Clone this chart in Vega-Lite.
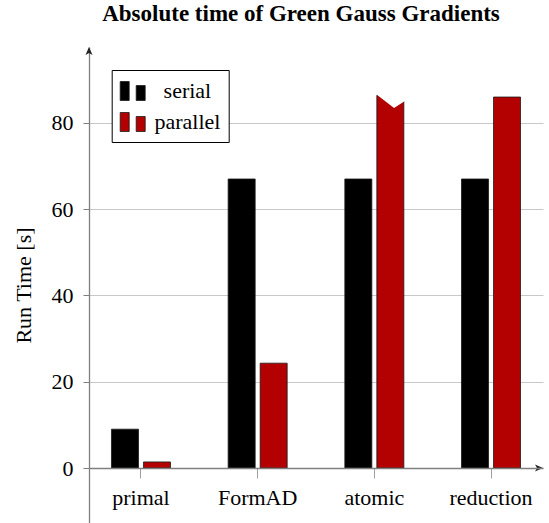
{
  "$schema": "https://vega.github.io/schema/vega-lite/v6.json",
  "width": 454,
  "height": 476,
  "autosize": {"type": "none"},
  "padding": {"left": 89, "top": 47, "right": 6, "bottom": 0},
  "background": "white",
  "config": {"font": "Liberation Serif", "view": {"stroke": null}},
  "title": {
    "text": "Absolute time of Green Gauss Gradients",
    "font": "Liberation Serif",
    "fontSize": 23,
    "fontWeight": "bold",
    "color": "black",
    "offset": 21,
    "dx": -15,
    "anchor": "middle"
  },
  "datasets": {
    "runs": [
      {"category": "primal", "series": "serial", "time": 9.0, "truncated": false},
      {"category": "primal", "series": "parallel", "time": 1.4, "truncated": false},
      {"category": "FormAD", "series": "serial", "time": 67.0, "truncated": false},
      {"category": "FormAD", "series": "parallel", "time": 24.3, "truncated": false},
      {"category": "atomic", "series": "serial", "time": 67.0, "truncated": false},
      {"category": "atomic", "series": "parallel", "time": 86.4, "truncated": true},
      {"category": "reduction", "series": "serial", "time": 67.0, "truncated": false},
      {"category": "reduction", "series": "parallel", "time": 86.0, "truncated": false}
    ]
  },
  "layer": [
    {
      "data": {"name": "runs"},
      "mark": {"type": "bar", "stroke": "#1a1a1a", "strokeWidth": 0.8},
      "encoding": {
        "x": {
          "field": "category",
          "type": "nominal",
          "sort": ["primal", "FormAD", "atomic", "reduction"],
          "scale": {"paddingInner": 0.109, "paddingOuter": 0},
          "title": null,
          "axis": {
            "orient": "bottom",
            "offset": -55,
            "zindex": 1,
            "domainColor": "#7f7f7f",
            "domainWidth": 1.3,
            "tickColor": "#a0a0a0",
            "tickSize": 10,
            "tickWidth": 1,
            "labelFont": "Liberation Serif",
            "labelFontSize": 22,
            "labelColor": "black",
            "labelPadding": 9,
            "labelAngle": 0,
            "grid": false
          }
        },
        "xOffset": {
          "field": "series",
          "type": "nominal",
          "sort": ["serial", "parallel"],
          "scale": {"paddingInner": 0.156, "paddingOuter": 0.702}
        },
        "y": {
          "field": "time",
          "type": "quantitative",
          "scale": {"domain": [-12.75, 97.6], "nice": false, "zero": false},
          "title": "Run Time [s]",
          "axis": {
            "values": [0, 20, 40, 60, 80],
            "domainColor": "#7f7f7f",
            "domainWidth": 1.3,
            "tickColor": "#7f7f7f",
            "tickSize": 6,
            "labelFont": "Liberation Serif",
            "labelFontSize": 22,
            "labelColor": "black",
            "labelPadding": 10,
            "titleFont": "Liberation Serif",
            "titleFontSize": 22,
            "titleFontWeight": "normal",
            "titleColor": "black",
            "titlePadding": 16,
            "grid": true,
            "gridColor": "#c8c8c8",
            "gridWidth": 1
          }
        },
        "color": {
          "field": "series",
          "type": "nominal",
          "sort": ["serial", "parallel"],
          "scale": {"range": ["#000000", "#b30000"]},
          "legend": {
            "orient": "none",
            "legendX": 22.7,
            "legendY": 23,
            "title": null,
            "fillColor": "white",
            "strokeColor": "black",
            "padding": 8,
            "symbolType": "M -1 -0.76 H -0.28 V 0.76 H -1 Z M 0.28 -0.44 H 1 V 0.76 H 0.28 Z",
            "symbolSize": 625,
            "symbolStrokeColor": "#1a1a1a",
            "symbolStrokeWidth": 0.8,
            "labelFont": "Liberation Serif",
            "labelFontSize": 22,
            "labelColor": "black",
            "labelAlign": "center",
            "labelOffset": 41.7,
            "rowPadding": 6
          }
        }
      }
    },
    {
      "data": {"name": "runs"},
      "transform": [{"filter": "datum.truncated === true"}],
      "mark": {
        "type": "point",
        "shape": "M -3 -0.6 L -2.7 -0.1 L 0.74 2.54 L 3 1.08 L 3 -0.6 Z",
        "filled": true,
        "fill": "white",
        "strokeWidth": 0,
        "size": 100,
        "opacity": 1
      },
      "encoding": {
        "x": {"field": "category", "type": "nominal", "sort": ["primal", "FormAD", "atomic", "reduction"]},
        "xOffset": {"field": "series", "type": "nominal", "sort": ["serial", "parallel"]},
        "y": {"field": "time", "type": "quantitative"}
      }
    },
    {
      "data": {"values": [{"axis": "y"}]},
      "mark": {
        "type": "point",
        "shape": "M 0 0 L 0.7 1.6 L 0 1.2 L -0.7 1.6 Z",
        "filled": true,
        "fill": "#222222",
        "strokeWidth": 0,
        "size": 100,
        "opacity": 1
      },
      "encoding": {
        "x": {"value": 0},
        "y": {"value": 0}
      }
    },
    {
      "data": {"values": [{"axis": "x"}]},
      "mark": {
        "type": "point",
        "shape": "M 0 0 L 0.7 1.6 L 0 1.2 L -0.7 1.6 Z",
        "filled": true,
        "fill": "#222222",
        "strokeWidth": 0,
        "size": 100,
        "angle": 90,
        "opacity": 1
      },
      "encoding": {
        "x": {"value": "width"},
        "y": {"datum": 0, "type": "quantitative"}
      }
    }
  ]
}
